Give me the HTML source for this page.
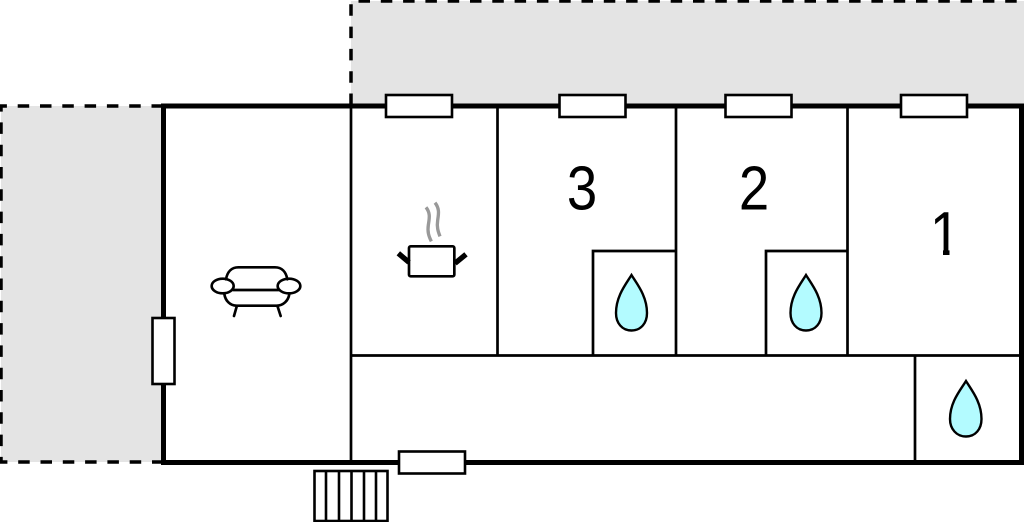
<!DOCTYPE html>
<html>
<head>
<meta charset="utf-8">
<style>
html,body{margin:0;padding:0;background:#fff;}
svg{display:block;}
text{font-family:"Liberation Sans",sans-serif;font-size:62px;fill:#000;text-anchor:middle;}
</style>
</head>
<body>
<svg width="1024" height="522" viewBox="0 0 1024 522" xmlns="http://www.w3.org/2000/svg">
<rect width="1024" height="522" fill="#fff"/>

<!-- terraces -->
<rect x="1" y="106" width="162" height="356" fill="#e4e4e4"/>
<rect x="351" y="1" width="673" height="104" fill="#e4e4e4"/>
<g fill="none" stroke="#000" stroke-width="3.500" stroke-dasharray="11.5 10.8">
  <path d="M163 106H1V462H163"/>
  <path d="M351 105V1H1024"/>
</g>

<!-- stairs -->
<g fill="#fff" stroke="#000" stroke-width="2.600">
  <rect x="314.500" y="471" width="73" height="50"/>
  <path d="M326 471V521M339 471V521M351.500 471V521M364 471V521M376 471V521" fill="none"/>
</g>

<!-- interior walls -->
<g fill="none" stroke="#000" stroke-width="2.700">
  <path d="M351 105V462M497.500 105V355M676 105V355M847.500 105V355M351 355.500H1021M915 355V462"/>
  <path d="M593 355V251H676M766 355V251H847"/>
</g>

<!-- outer walls -->
<rect x="163.500" y="106" width="858" height="356.500" fill="none" stroke="#000" stroke-width="5"/>

<!-- windows -->
<g fill="#fff" stroke="#000" stroke-width="2.600">
  <rect x="386" y="95" width="66" height="22"/>
  <rect x="559.500" y="95" width="66" height="22"/>
  <rect x="725.500" y="95" width="66" height="22"/>
  <rect x="901" y="95" width="66" height="22"/>
  <rect x="152.500" y="318" width="22" height="66"/>
  <rect x="399" y="451.500" width="66" height="22"/>
</g>

<!-- drops -->
<g fill="#b3fbff" stroke="#000" stroke-width="2.400">
  <path d="M631.500 275C626 284 616 296 616 313C616 323 622 330.500 631.500 330.500C641 330.500 647 323 647 313C647 296 637 284 631.500 275Z"/>
  <path d="M806 275C800.500 284 790.500 296 790.500 313C790.500 323 796.500 330.500 806 330.500C815.500 330.500 821.500 323 821.500 313C821.500 296 811.500 284 806 275Z"/>
  <path d="M966 381C960.500 390 950 402 950 419C950 429 956.500 436.500 966 436.500C975.500 436.500 981.500 429 981.500 419C981.500 402 971.500 390 966 381Z"/>
</g>

<!-- sofa -->
<g transform="translate(190 190) scale(.33333)" fill="none" stroke="#000" stroke-width="8" stroke-linecap="round">
  <path d="M108 268C112 245 125 232 145 232H255C275 232 288 245 292 268"/>
  <path d="M130 300H265"/>
  <path d="M103 312C106 332 120 347 140 347H260C280 347 295 332 298 312"/>
  <ellipse cx="98" cy="288" rx="33" ry="22"/>
  <ellipse cx="297" cy="288" rx="34" ry="22"/>
  <path d="M140 350L132 378M263 350L272 378"/>
</g>

<!-- pot -->
<g transform="translate(190 190) scale(.33333)" fill="none">
  <rect x="657" y="169" width="136" height="90" rx="5" fill="#fff" stroke="#000" stroke-width="8"/>
  <path d="M625 190L657 217M828 193L795 220" stroke="#000" stroke-width="16"/>
  <path d="M708 52C722 70 718 85 715 105C712 125 716 138 724 154" stroke="#999" stroke-width="10"/>
  <path d="M735 38C749 56 746 71 743 91C740 111 744 124 750 139" stroke="#999" stroke-width="10"/>
</g>

<!-- labels -->
<text transform="translate(582 209.500) scale(.88 1)">3</text>
<text transform="translate(754 209.500) scale(.88 1)">2</text>
<text transform="translate(945 255) scale(.88 1)">1</text>
<!-- trims the foot of the 1 -->
<rect x="928" y="249" width="15" height="8" fill="#fff"/>
<rect x="949.500" y="249" width="14" height="8" fill="#fff"/>
</svg>
</body>
</html>
